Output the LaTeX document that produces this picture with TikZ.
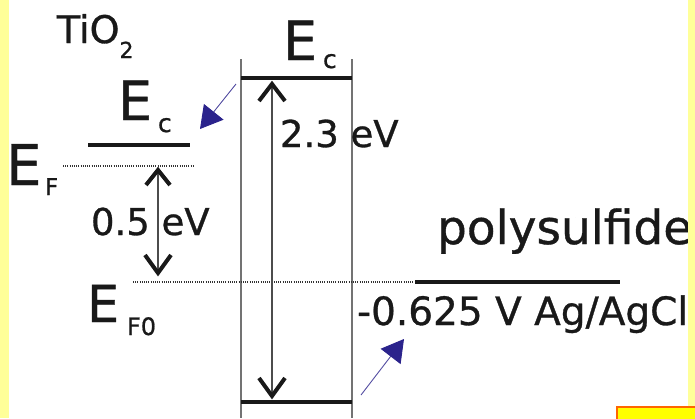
\documentclass[tikz,border=0pt]{standalone}
\usepackage{fontspec}
\setmainfont{DejaVu Sans}[FakeBold=0.8]
\usetikzlibrary{arrows.meta,calc}
\definecolor{paleyellow}{RGB}{255,255,153}
\definecolor{navyarrow}{RGB}{43,35,140}
\definecolor{boxorange}{RGB}{255,102,0}
\definecolor{boxyellow}{RGB}{255,255,0}
\newcommand{\fsz}[1]{\fontsize{#1}{#1}\selectfont}
\begin{document}
\begin{tikzpicture}[x=1pt,y=-1pt,
  txt/.style={anchor=base west,inner sep=0pt,outer sep=0pt,text=black!90},
  level/.style={line width=3.8pt,black!90},
  wall/.style={line width=1.5pt,black!55},
  dotline/.style={line width=1.3pt,black!80,dash pattern=on 1pt off 1.2pt},
  shaft/.style={line width=1.1pt,draw=black!70},
  chev/.style={line width=4pt,black!90,line join=miter},
  injarrow/.style={line width=0.9pt,draw=navyarrow!80,-{Triangle[length=22pt,width=25pt,fill=navyarrow,color=navyarrow]}}]
\useasboundingbox (0,0) rectangle (695,418);
\fill[white] (0,0) rectangle (695,418);

% band box walls
\coordinate (wl1) at (241,59); \coordinate (wl2) at (241,418);
\coordinate (wr1) at (352,59); \coordinate (wr2) at (352,418);
\draw[wall] (wl1) -- (wl2);
\draw[wall] (wr1) -- (wr2);

% levels
\coordinate (ecb1) at (241,78); \coordinate (ecb2) at (352,78);
\draw[level] (ecb1) -- (ecb2);
\coordinate (evb1) at (241,402); \coordinate (evb2) at (352,402);
\draw[level] (evb1) -- (evb2);
\coordinate (ecl1) at (88,145); \coordinate (ecl2) at (190,145);
\draw[level] (ecl1) -- (ecl2);
\coordinate (ef1) at (63,166); \coordinate (ef2) at (193,166);
\draw[dotline] (ef1) -- (ef2);
\coordinate (ef01) at (133,282); \coordinate (ef02) at (415,282);
\draw[dotline] (ef01) -- (ef02);
\coordinate (ps1) at (415,282); \coordinate (ps2) at (620,282);
\draw[level] (ps1) -- (ps2);

% gap arrows (shaft + chevron heads)
\coordinate (ga1) at (272,84); \coordinate (ga2) at (272,396);
\draw[shaft] (ga1) -- (ga2);
\draw[chev] ($(ga1)+(-13,17)$) -- (ga1) -- ($(ga1)+(13,17)$);
\draw[chev] ($(ga2)+(-13,-18)$) -- (ga2) -- ($(ga2)+(13,-18)$);
\coordinate (sa1) at (158,170); \coordinate (sa2) at (158,273);
\draw[shaft] (sa1) -- (sa2);
\draw[chev] ($(sa1)+(-12,15)$) -- (sa1) -- ($(sa1)+(12,15)$);
\draw[chev] ($(sa2)+(-13,-18)$) -- (sa2) -- ($(sa2)+(13,-18)$);

% texts
\node[txt] (tio) at (57,43) {\fsz{38}TiO\raisebox{-15pt}{\fsz{22}2}};
\node[txt] (ecLE) at (118,120) {\fsz{54}E};
\node[txt] (ecLc) at (158,132) {\fsz{25}c};
\node[txt] (ecRE) at (283,60) {\fsz{54}E};
\node[txt] (ecRc) at (323,68) {\fsz{25}c};
\node[txt] (efE) at (6,185) {\fsz{56}E};
\node[txt] (efF) at (45,195) {\fsz{23}F};
\node[txt] (ef0E) at (87,322) {\fsz{51}E};
\node[txt] (ef0F) at (127,335) {\fsz{24}F0};
\node[txt] (halfev) at (91,235) {\fsz{37}0.5 eV};
\node[txt] (gapev) at (280,147) {\fsz{37}2.3 eV};
\node[txt] (poly) at (437,244) {\fsz{47}polysulfide};
\node[txt] (pot) at (357,325) {\fsz{39}-0.625 V Ag/AgCl};

% blue arrows
\coordinate (ba1) at (236,84); \coordinate (ba2) at (200,129);
\draw[injarrow] (ba1) -- (ba2);
\coordinate (bb1) at (361,395); \coordinate (bb2) at (404,339);
\draw[injarrow] (bb1) -- (bb2);

% yellow frame parts
\fill[paleyellow] (0,0) rectangle (9,418);
\fill[paleyellow] (688,0) rectangle (695,406);
\draw[boxorange,line width=2pt,fill=boxyellow] (617,407) rectangle (700,425);
\end{tikzpicture}
\end{document}
